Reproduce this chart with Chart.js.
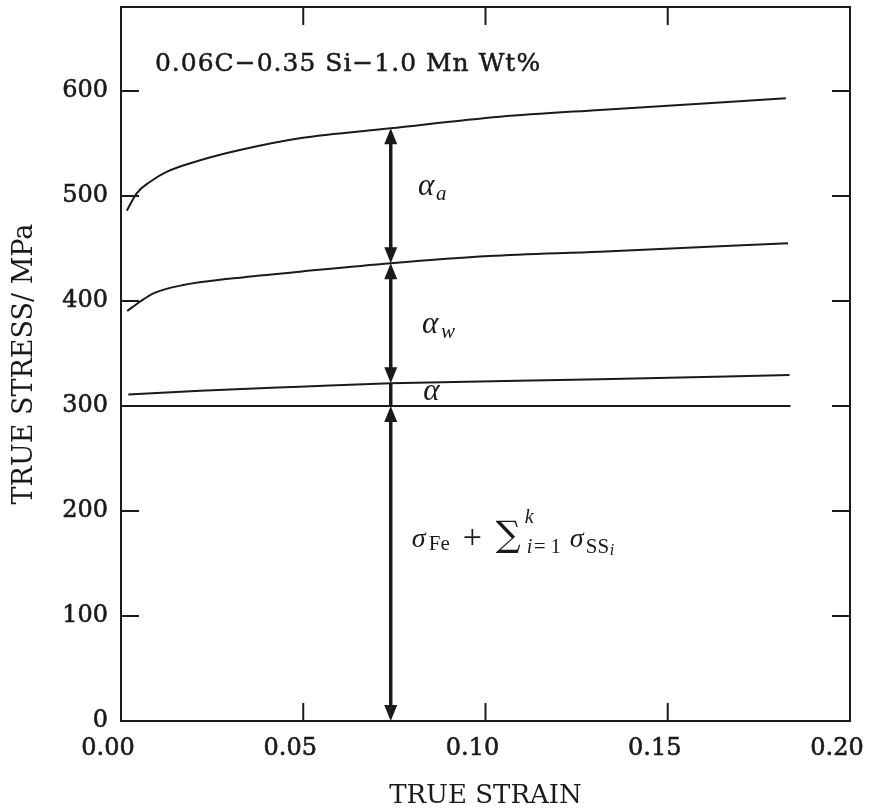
<!DOCTYPE html>
<html>
<head>
<meta charset="utf-8">
<script src="https://cdn.jsdelivr.net/npm/chart.js@4.4.0/dist/chart.umd.min.js"></script>
<style>
  html, body { margin: 0; padding: 0; background: #fff; }
  #wrap { width: 870px; height: 812px; }
</style>
</head>
<body>
<div id="wrap"><canvas id="myChart"></canvas></div>
<script>
const ctx = document.getElementById("myChart");

// axis ticks
const strainTicks = [0, 0.05, 0.10, 0.15, 0.20];
const stressTicks = [0, 100, 200, 300, 400, 500, 600];

// total flow stress
const totalStrain = [0.0016, 0.0043, 0.008, 0.0125, 0.0217, 0.0326, 0.049, 0.074, 0.104, 0.1314, 0.1824];
const totalStress = [486, 502.6, 513.6, 523, 534, 543.8, 555, 564.5, 575.5, 582, 593];

// stress without the work hardening term
const workStrain = [0.0017, 0.0052, 0.0089, 0.0171, 0.0308, 0.0491, 0.074, 0.101, 0.1314, 0.183];
const workStress = [390.5, 399.3, 407.3, 415.2, 421.6, 427.9, 436, 442.9, 447, 455];

// alpha contribution
const alphaStrain = [0.002, 0.0217, 0.049, 0.074, 0.1314, 0.1834];
const alphaStress = [311, 314.6, 318.4, 321.6, 325.4, 329.5];

// iron + solid solution baseline
const baseStrain = [0.0016, 0.1837];
const baseStress = [300, 300];

// double arrows stacked at one strain
const arrowStrain = 0.074;
const arrowLevels = [564.5, 436, 321.6, 300, 0];
const arrowHeads = [true, true, false, true];

const titleText = "0.06C\u22120.35 Si\u22121.0 Mn Wt%";

const toPts = (xs, ys) => xs.map((x, i) => ({ x: x, y: ys[i] }));

const ink = "#1a1a1a";
const serif = '"DejaVu Serif", serif';
const mathFont = '"Liberation Serif", "DejaVu Serif", serif';
const it = (s) => "italic " + s + "px " + mathFont;
const rm = (s) => s + "px " + mathFont;

// each run: text, font, x offset from the anchor, baseline shift
function drawRuns(c, x, y, runs) {
  runs.forEach((r) => {
    c.font = r.font;
    c.fillText(r.t, x + (r.at || 0), y + (r.dy || 0));
  });
}

function arrowHead(c, x, tipY, dir) {
  // dir = -1 points up, 1 points down
  c.beginPath();
  c.moveTo(x, tipY);
  c.lineTo(x - 6.5, tipY - dir * 16);
  c.lineTo(x + 6.5, tipY - dir * 16);
  c.closePath();
  c.fill();
}

const decorations = {
  id: "decorations",
  afterDatasetsDraw(chart) {
    const c = chart.ctx;
    const { left, right, top, bottom } = chart.chartArea;
    const xs = chart.scales.x;
    const ys = chart.scales.y;
    c.save();
    c.strokeStyle = ink;
    c.fillStyle = ink;

    // frame
    c.lineWidth = 2;
    c.strokeRect(left, top, right - left, bottom - top);

    // inward ticks on all four sides
    const tl = 18;
    c.beginPath();
    strainTicks.slice(1, -1).forEach((v) => {
      const px = xs.getPixelForValue(v);
      c.moveTo(px, bottom); c.lineTo(px, bottom - tl);
      c.moveTo(px, top); c.lineTo(px, top + tl);
    });
    stressTicks.slice(1).forEach((v) => {
      const py = ys.getPixelForValue(v);
      c.moveTo(left, py); c.lineTo(left + tl, py);
      c.moveTo(right, py); c.lineTo(right - tl, py);
    });
    c.stroke();

    // arrows
    const ax = xs.getPixelForValue(arrowStrain);
    c.lineWidth = 3.5;
    for (let i = 0; i < arrowLevels.length - 1; i++) {
      const y1 = ys.getPixelForValue(arrowLevels[i]);
      const y2 = ys.getPixelForValue(arrowLevels[i + 1]);
      const inset = arrowHeads[i] ? 10 : 0;
      c.beginPath();
      c.moveTo(ax, y1 + inset);
      c.lineTo(ax, y2 - inset);
      c.stroke();
      if (arrowHeads[i]) {
        arrowHead(c, ax, y1, -1);
        arrowHead(c, ax, y2, 1);
      }
    }

    // composition note
    c.textBaseline = "alphabetic";
    c.textAlign = "left";
    c.font = "25px " + serif;
    c.letterSpacing = "1px";
    c.lineWidth = 0.5;
    const tx = xs.getPixelForValue(0.0093);
    const ty = ys.getPixelForValue(619);
    c.fillText(titleText, tx, ty);
    c.strokeText(titleText, tx, ty);
    c.letterSpacing = "0px";

    // term labels
    drawRuns(c, xs.getPixelForValue(0.0815), ys.getPixelForValue(501), [
      { t: "\u03b1", font: it(31) },
      { t: "a", font: it(21), at: 18, dy: 5 }
    ]);
    drawRuns(c, xs.getPixelForValue(0.0826), ys.getPixelForValue(370), [
      { t: "\u03b1", font: it(31) },
      { t: "w", font: it(21), at: 19, dy: 5 }
    ]);
    drawRuns(c, xs.getPixelForValue(0.0829), ys.getPixelForValue(305.7), [
      { t: "\u03b1", font: it(31) }
    ]);
    drawRuns(c, xs.getPixelForValue(0.0798), ys.getPixelForValue(165.7), [
      { t: "\u03c3", font: it(28) },
      { t: "Fe", font: rm(21), at: 17, dy: 3 },
      { t: "+", font: rm(34), at: 51, dy: 1 },
      { t: "\u2211", font: "35px " + serif, at: 84, dy: -1 },
      { t: "k", font: it(20), at: 113, dy: -24 },
      { t: "i", font: it(20), at: 115, dy: 6 },
      { t: "=", font: rm(21), at: 122, dy: 6 },
      { t: "1", font: rm(20), at: 139, dy: 6 },
      { t: "\u03c3", font: it(28), at: 158 },
      { t: "SS", font: rm(21), at: 174, dy: 6 },
      { t: "i", font: it(16), at: 198, dy: 8 }
    ]);
    c.restore();
  }
};

const curve = (pts) => ({
  data: pts,
  borderColor: ink,
  borderWidth: 2,
  pointRadius: 0,
  fill: false,
  cubicInterpolationMode: "monotone"
});

const tickFont = { family: serif, size: 24 };

new Chart(ctx, {
  type: "line",
  data: {
    datasets: [
      curve(toPts(totalStrain, totalStress)),
      curve(toPts(workStrain, workStress)),
      curve(toPts(alphaStrain, alphaStress)),
      curve(toPts(baseStrain, baseStress))
    ]
  },
  options: {
    responsive: true,
    maintainAspectRatio: false,
    animation: false,
    layout: { padding: { top: 7, right: 20, left: 0, bottom: 0 } },
    plugins: { legend: { display: false }, tooltip: { enabled: false } },
    scales: {
      x: {
        type: "linear",
        min: 0,
        max: 0.2,
        afterFit: (s) => {
          s.height = 91;
          s.paddingLeft = 0;
          s.paddingRight = 0;
        },
        afterBuildTicks: (s) => { s.ticks = strainTicks.map((v) => ({ value: v })); },
        grid: { display: false, drawTicks: false },
        border: { display: false },
        ticks: {
          callback: (v) => v.toFixed(2),
          font: tickFont,
          color: ink,
          textStrokeColor: ink,
          textStrokeWidth: 0.6,
          padding: 13,
          labelOffset: -13,
          maxRotation: 0
        },
        title: {
          display: true,
          text: "TRUE STRAIN",
          font: { family: serif, size: 26 },
          color: ink,
          padding: { top: 0, bottom: 0 }
        }
      },
      y: {
        min: 0,
        max: 680,
        afterFit: (s) => {
          s.width = 121;
          s.paddingTop = 0;
          s.paddingBottom = 0;
        },
        afterBuildTicks: (s) => { s.ticks = stressTicks.map((v) => ({ value: v })); },
        grid: { display: false, drawTicks: false },
        border: { display: false },
        ticks: {
          font: tickFont,
          color: ink,
          textStrokeColor: ink,
          textStrokeWidth: 0.6,
          padding: 13
        },
        title: {
          display: true,
          text: "TRUE STRESS/ MPa",
          font: { family: serif, size: 27 },
          color: ink,
          padding: { top: 9, bottom: 0 }
        }
      }
    }
  },
  plugins: [decorations]
});
</script>
</body>
</html>
